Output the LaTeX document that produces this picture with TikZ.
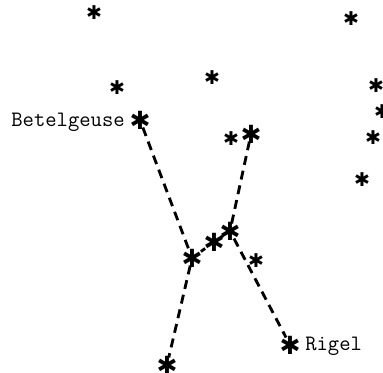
\documentclass[tikz,border=0pt]{standalone}
\usepackage{fontspec}
\newfontfamily\starfont{DejaVu Sans}
\usetikzlibrary{positioning}

\begin{document}
\begin{tikzpicture} [x=0.5pt,y=-0.5pt,line width=0.5mm,
    bigstar/.style={inner sep=-1.5pt,font=\starfont\fontsize{12.5}{12.5}\selectfont},
    smallstar/.style={inner sep=0pt,font=\starfont\fontsize{9.5}{9.5}\selectfont},
    starlabel/.style={inner sep=0pt,font=\ttfamily\fontsize{11}{13}\selectfont}]
  \useasboundingbox (0,0) rectangle (383,372);
  % background stars
  \node[smallstar] (s1) at (94,13) {✱};
  \node[smallstar] (s2) at (351,19) {✱};
  \node[smallstar] (s3) at (117,88) {✱};
  \node[smallstar] (s4) at (212,78) {✱};
  \node[smallstar] (s5) at (376,86) {✱};
  \node[smallstar] (s6) at (382,112) {✱};
  \node[smallstar] (s7) at (373,138) {✱};
  \node[smallstar] (s8) at (231,139) {✱};
  \node[smallstar] (s9) at (362,180) {✱};
  \node[smallstar] (s10) at (256,261) {✱};

  % Orion
  \node[bigstar] (1) at (140,120) {✱};
  \node[bigstar] (2) at (251,134) {✱};
  \node[bigstar] (3) at (192,258) {✱};
  \node[bigstar] (4) at (214,242) {✱};
  \node[bigstar] (5) at (230,231) {✱};
  \node[bigstar] (6) at (290,345) {✱};
  \node[bigstar] (7) at (167,365) {✱};

  \node[starlabel] (1l) [left=2.5pt of 1,yshift=-1pt] {Betelgeuse};
  \node[starlabel] (6l) [right=2.5pt of 6,yshift=-0.5pt] {Rigel};

  \path[dash pattern=on 4.5pt off 3pt]
    (1) edge (3)
    (3) edge (4)
        edge (7)
    (4) edge (5)
    (5) edge (2)
        edge (6);
\end{tikzpicture}
\end{document}
